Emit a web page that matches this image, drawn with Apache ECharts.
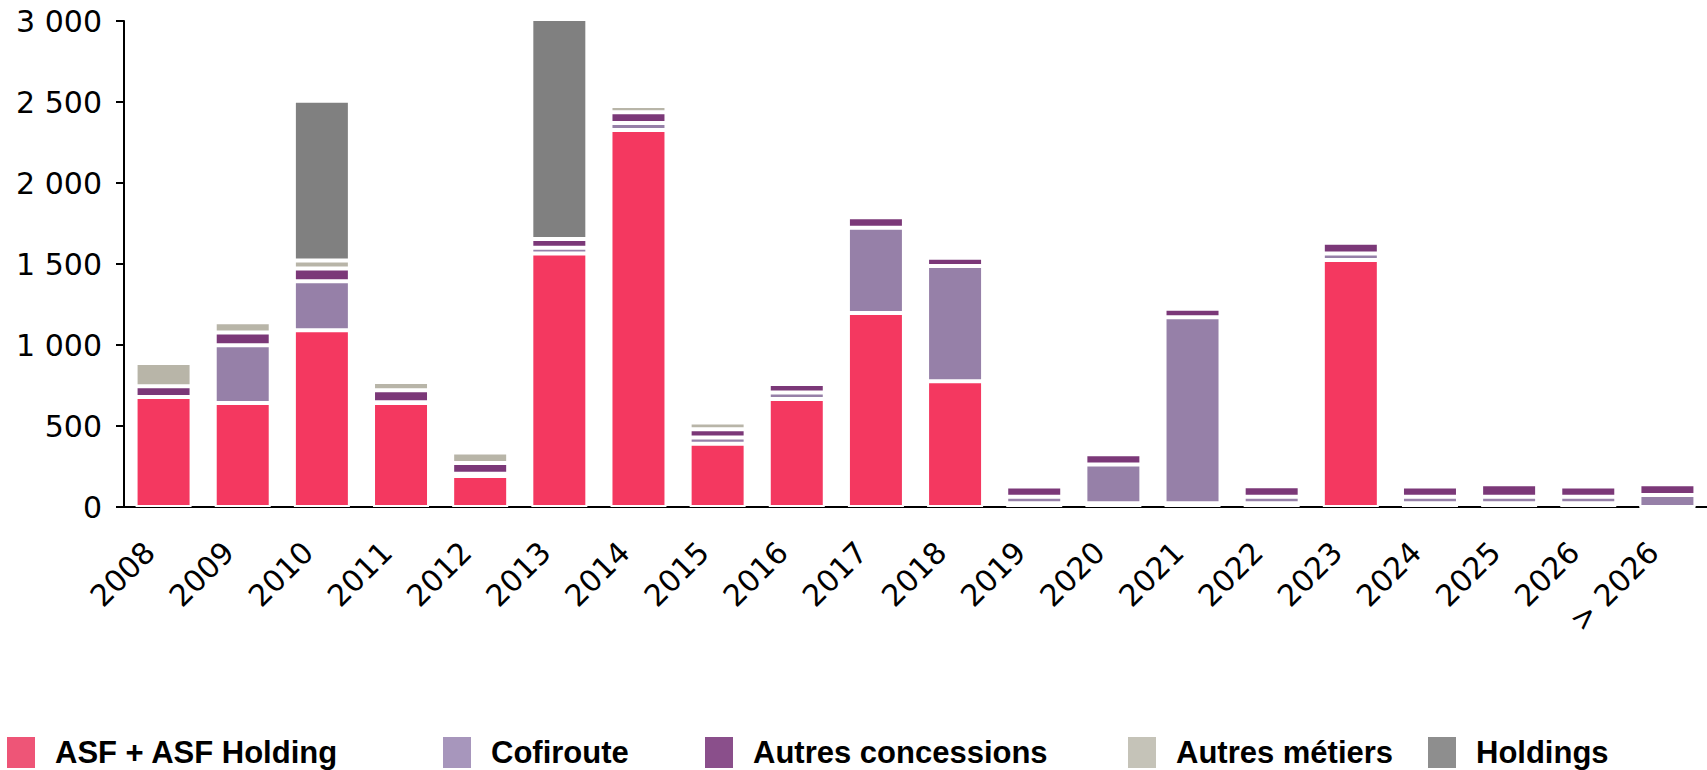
<!DOCTYPE html>
<html>
<head>
<meta charset="utf-8">
<script src="https://cdn.jsdelivr.net/npm/echarts@6/dist/echarts.min.js"></script>
<style>
  html, body { margin: 0; padding: 0; background: #fff; }
  #chart { width: 1707px; height: 770px; }
</style>
</head>
<body>
<div id="chart"></div>
<script>
// échéancier de la dette par pôle (M€)
const years = ['2008', '2009', '2010', '2011', '2012', '2013', '2014', '2015', '2016', '2017',
               '2018', '2019', '2020', '2021', '2022', '2023', '2024', '2025', '2026', '> 2026'];

const asf       = [679, 642, 1091, 642, 191, 1565, 2327, 391, 667, 1198, 776, 23, 23, 23, 23, 1524, 23, 23, 23, 0];
const cofiroute = [0, 357, 303, 5, 15, 35, 43, 38, 40, 525, 711, 41, 239, 1149, 40, 41, 40, 40, 40, 74];
const autresConcessions = [66, 78, 78, 74, 66, 55, 66, 51, 53, 66, 51, 62, 63, 51, 65, 66, 64, 77, 64, 66];
const autresMetiers     = [144, 64, 50, 51, 64, 0, 39, 41, 0, 0, 0, 0, 0, 0, 0, 0, 0, 0, 0, 0];
const holdings          = [0, 0, 986, 0, 0, 1357, 0, 0, 0, 0, 0, 0, 0, 0, 0, 0, 0, 0, 0, 0];

const yTicks = { min: 0, max: 3000, interval: 500 };

const seriesDefs = [
    { name: 'ASF + ASF Holding', data: asf, color: '#f43860', legendColor: '#ee5577' },
    { name: 'Cofiroute', data: cofiroute, color: '#9680a8', legendColor: '#a796bc' },
    { name: 'Autres concessions', data: autresConcessions, color: '#7b3878', legendColor: '#8a4f8b' },
    { name: 'Autres métiers', data: autresMetiers, color: '#b8b5a8', legendColor: '#c5c3b8' },
    { name: 'Holdings', data: holdings, color: '#808080', legendColor: '#8e8e8e' },
];
const legendLeft = [5, 441, 703, 1126, 1426];

const chart = echarts.init(document.getElementById('chart'), null, { renderer: 'svg' });

const fmt = v => String(v).replace(/\B(?=(\d{3})+(?!\d))/g, ' ');

chart.setOption({
    animation: false,
    grid: { left: 124, top: 21, width: 1588, height: 486 },
    legend: seriesDefs.map((s, i) => ({
        left: legendLeft[i],
        top: 735,
        padding: 0,
        icon: 'rect',
        itemWidth: 30,
        itemHeight: 33,
        selectedMode: false,
        data: [{ name: s.name, itemStyle: { color: s.legendColor } }],
        textStyle: {
            fontFamily: '"Liberation Sans", Arial, sans-serif',
            fontWeight: 'bold',
            fontSize: 31,
            color: '#000',
            padding: [0, 0, 0, 14]
        }
    })),
    xAxis: {
        type: 'category',
        data: years,
        axisLine: { lineStyle: { color: '#000', width: 2 } },
        axisTick: { length: 8, lineStyle: { color: '#000', width: 2 } },
        axisLabel: {
            rotate: 45,
            margin: 26,
            padding: [0, 20, 0, 0],
            interval: 0,
            fontFamily: '"DejaVu Sans", sans-serif',
            fontSize: 30,
            color: '#000'
        }
    },
    yAxis: {
        type: 'value',
        min: yTicks.min,
        max: yTicks.max,
        interval: yTicks.interval,
        splitLine: { show: false },
        axisLine: { show: true, lineStyle: { color: '#000', width: 2 } },
        axisTick: { show: true, length: 8, lineStyle: { color: '#000', width: 2 } },
        axisLabel: {
            margin: 22,
            formatter: fmt,
            fontFamily: '"DejaVu Sans", sans-serif',
            fontSize: 30,
            color: '#000'
        }
    },
    series: seriesDefs.map(s => ({
        name: s.name,
        type: 'bar',
        stack: 'dette',
        barWidth: 56,
        clip: false,
        data: s.data,
        itemStyle: { color: s.color, borderColor: '#fff', borderWidth: 2 }
    }))
});
</script>
</body>
</html>
